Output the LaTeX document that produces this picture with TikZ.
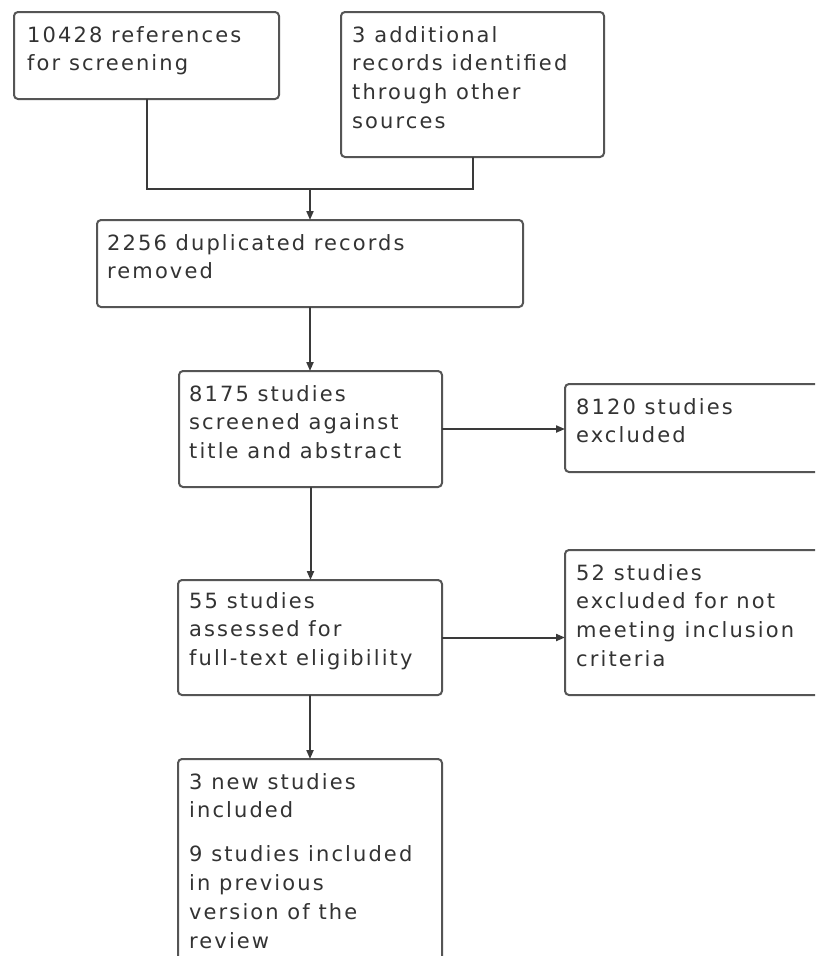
\documentclass[tikz,border=0pt]{standalone}
\usepackage{fontspec}
\setmainfont{DejaVu Sans}[LetterSpace=10]
\usetikzlibrary{arrows.meta}
\definecolor{txtc}{HTML}{333333}
\definecolor{boxc}{HTML}{555555}
\definecolor{linec}{HTML}{3A3A3A}
\begin{document}
\begin{tikzpicture}[x=1pt,y=-1pt,
  box/.style={draw=boxc, line width=2pt, rounded corners=4pt, inner sep=0pt, outer sep=0pt, fill=white},
  txt/.style={text=txtc, anchor=base west, align=left, inner sep=0pt, font=\fontsize{21}{28.8}\selectfont},
  conn/.style={draw=linec, line width=2pt},
  arr/.style={conn, -{Triangle[length=9pt,width=7pt]}}]
\useasboundingbox (0,0) rectangle (815,956);
\clip (0,0) rectangle (815,956);
\fill[white] (0,0) rectangle (815,956);
% boxes
\node[box, minimum width=265pt, minimum height=87pt]  (A) at (146.5,55.5) {};
\node[box, minimum width=263pt, minimum height=145pt] (B) at (472.5,84.5) {};
\node[box, minimum width=426pt, minimum height=87pt]  (C) at (310,263.5) {};
\node[box, minimum width=263pt, minimum height=116pt] (D) at (310.5,429) {};
\node[box, minimum width=280pt, minimum height=88pt]  (E) at (705,428) {};
\node[box, minimum width=264pt, minimum height=115pt] (F) at (310,637.5) {};
\node[box, minimum width=280pt, minimum height=145pt] (G) at (705,622.5) {};
\node[box, minimum width=264pt, minimum height=231pt] (H) at (310,874.5) {};
% texts (anchored at the baseline of the last line)
\node[txt] (tA) at (27,70.8) {10428 references\\for screening};
\node[txt] (tB) at (352,128.4) {3 additional\\records identified\\through other\\sources};
\node[txt] (tC) at (107,278.8) {2256 duplicated records\\removed};
\node[txt] (tD) at (189,458.6) {8175 studies\\screened against\\title and abstract};
\node[txt] (tE) at (576,442.8) {8120 studies\\excluded};
\node[txt] (tF) at (189,665.6) {55 studies\\assessed for\\full-text eligibility};
\node[txt] (tG) at (576,666.4) {52 studies\\excluded for not\\meeting inclusion\\criteria};
\node[txt] (tH) at (189,948) {3 new studies\\included\\[15pt]9 studies included\\in previous\\version of the\\review};
% connectors
\coordinate (m) at (310,189);
\draw[conn] (A.south) |- (m) -| (B.south);
\draw[arr] (m) -- (C.north);
\draw[arr] (C.south) -- (C.south |- D.north);
\draw[arr] (D.east) -- (D.east -| E.west);
\draw[arr] (D.south) -- (D.south |- F.north);
\draw[arr] (F.east) -- (F.east -| G.west);
\draw[arr] (F.south) -- (F.south |- H.north);
\end{tikzpicture}
\end{document}
